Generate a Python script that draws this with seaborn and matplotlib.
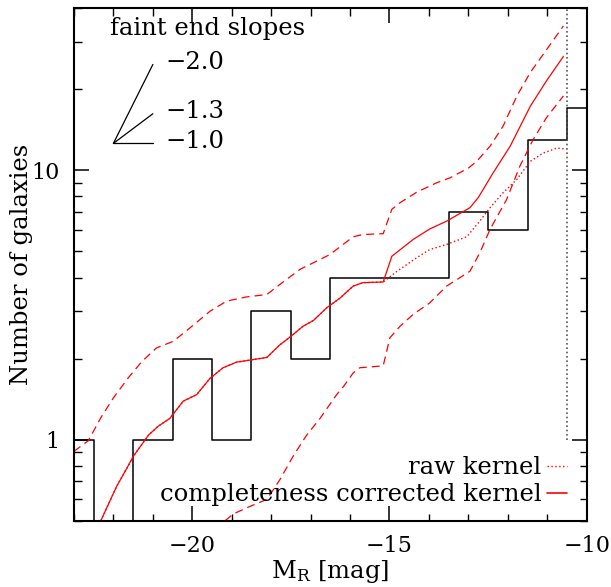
import numpy as np
import pandas as pd
import matplotlib
matplotlib.use("Agg")
import matplotlib.pyplot as plt
import seaborn as sns
from matplotlib.ticker import MultipleLocator, LogLocator, FuncFormatter, NullFormatter
from matplotlib.lines import Line2D

# --- data -------------------------------------------------------------
# galaxy counts in 1-mag bins of absolute R magnitude
bin_edges = [-23.5, -22.5, -21.5, -20.5, -19.5, -18.5, -17.5, -16.5,
             -15.5, -14.5, -13.5, -12.5, -11.5, -10.5, -9.5]
bin_counts = [1, 0, 1, 2, 1, 3, 2, 4, 4, 4, 7, 6, 13, 17]

# completeness corrected kernel estimate
corr_mag = [-22.32, -21.92, -21.71, -21.49, -21.11, -20.87, -20.57, -20.23,
            -19.89, -19.55, -19.22, -18.88, -18.49, -18.11, -17.78, -17.53,
            -17.19, -16.93, -16.59, -16.25, -15.92, -15.67, -15.16, -14.94,
            -14.40, -13.98, -13.55, -12.96, -12.75, -12.37, -11.94, -11.43,
            -11.02, -10.59]
corr_n = [0.50, 0.67, 0.76, 0.87, 1.04, 1.12, 1.20, 1.39,
          1.47, 1.69, 1.85, 1.94, 1.98, 2.02, 2.25, 2.40,
          2.64, 2.77, 3.09, 3.36, 3.72, 3.83, 3.85, 4.80,
          5.54, 6.06, 6.48, 7.27, 7.92, 9.80, 12.3, 17.3,
          21.5, 26.5]

# raw kernel estimate (identical to the corrected one at the bright end)
raw_tail_mag = [-14.81, -14.31, -13.98, -13.55, -13.04, -12.71, -12.45,
                -12.12, -11.77, -11.43, -11.10, -10.76, -10.51]
raw_tail_n = [4.22, 4.74, 5.08, 5.31, 5.67, 6.48, 7.27,
              8.26, 9.26, 10.8, 11.6, 12.1, 12.0]
raw_mag = corr_mag[:23] + raw_tail_mag
raw_n = corr_n[:23] + raw_tail_n

# confidence band of the corrected kernel
upper_mag = [-23.00, -22.64, -22.30, -22.00, -21.62, -21.28, -20.91, -20.48,
             -20.06, -19.55, -19.13, -18.62, -18.11, -17.78, -17.27, -16.51,
             -15.92, -15.67, -15.16, -14.94, -14.73, -14.31, -13.80, -13.46,
             -13.00, -12.79, -12.45, -12.12, -11.77, -11.43, -11.10, -10.59]
upper_n = [0.905, 0.99, 1.22, 1.43, 1.70, 1.95, 2.19, 2.32,
           2.60, 3.00, 3.27, 3.39, 3.46, 3.77, 4.29, 4.87,
           5.67, 5.78, 5.82, 7.17, 7.59, 8.30, 9.00, 9.39,
           10.2, 10.8, 12.3, 14.6, 18.9, 23.1, 27.0, 34.4]
lower_mag = [-19.17, -18.96, -18.54, -18.11, -17.78, -17.44, -17.10, -16.76,
             -16.34, -16.16, -15.92, -15.75, -15.16, -14.99, -14.73, -14.40,
             -13.98, -13.55, -12.96, -12.71, -12.45, -12.03, -11.69, -11.36,
             -11.02, -10.59]
lower_n = [0.50, 0.53, 0.565, 0.60, 0.71, 0.87, 1.04, 1.20,
           1.47, 1.58, 1.77, 1.85, 1.88, 2.39, 2.64, 2.92,
           3.22, 3.72, 4.22, 4.94, 6.04, 7.80, 10.4, 13.0,
           15.7, 18.9]

completeness_limit = -10.5

# faint end slopes shown in the key (alpha, drawn rise in dex per mag)
slope_alpha = [-2.0, -1.3, -1.0]
slope_rise = [0.293, 0.110, 0.0]

# --- style ------------------------------------------------------------
sns.set_theme(style="ticks")
plt.rcParams["font.family"] = ["DejaVu Serif"]
plt.rcParams["mathtext.fontset"] = "dejavuserif"
for key in ("text.color", "axes.labelcolor", "xtick.color", "ytick.color",
            "axes.edgecolor"):
    plt.rcParams[key] = "black"
TXT = 17.5
plt.rcParams["font.size"] = TXT

fig = plt.figure(figsize=(6.11, 5.87), dpi=100)
ax = fig.add_axes([0.1211, 0.1129, 0.8391, 0.8730])

# histogram
centers = [(a + b) / 2 for a, b in zip(bin_edges[:-1], bin_edges[1:])]
hist_df = pd.DataFrame({"mag": centers, "n": bin_counts})
sns.histplot(data=hist_df, x="mag", weights="n", bins=bin_edges,
             element="step", fill=False, color="black", linewidth=1.1, ax=ax)
ax.set_yscale("log")

red = "#ff0000"
sns.lineplot(x=upper_mag, y=upper_n, color=red, lw=0.9, sort=False,
             estimator=None, linestyle=(0, (6.4, 4)), ax=ax)
sns.lineplot(x=lower_mag, y=lower_n, color=red, lw=0.9, sort=False,
             estimator=None, linestyle=(0, (6.4, 4)), ax=ax)
sns.lineplot(x=raw_mag, y=raw_n, color=red, lw=1.0, sort=False,
             estimator=None, linestyle=(0, (1, 1.8)), ax=ax)
sns.lineplot(x=corr_mag, y=corr_n, color=red, lw=0.9, sort=False,
             estimator=None, ax=ax)

ax.set_xlim(-23, -10)
ax.set_ylim(0.5, 40)

# completeness limit
ax.vlines(completeness_limit, 1, ax.get_ylim()[1], colors="0.35",
          linestyles=(0, (1, 1.6)), lw=1.2)

# faint end slope key
m0, n0 = -22.0, 12.6
for a, r in zip(slope_alpha, slope_rise):
    ax.plot([m0, m0 + 1], [n0, n0 * 10 ** r], color="black", lw=0.9)
    ax.annotate(f"{a:.1f}".replace("-", "\u2212"), xy=(m0 + 1, n0 * 10 ** r),
                xytext=(9, 1.5), textcoords="offset points",
                ha="left", va="center", fontsize=TXT)
ax.text(0.2614, 0.9613, "faint end slopes", transform=ax.transAxes,
        ha="center", va="center", fontsize=TXT)

# key for the kernels
handles = [Line2D([], [], color=red, lw=1.0, linestyle=(0, (1, 1.8))),
           Line2D([], [], color=red, lw=1.2)]
ax.legend(handles, ["raw kernel", "completeness corrected kernel"],
          loc="lower right", bbox_to_anchor=(0.961, 0.028), frameon=False,
          markerfirst=False, handlelength=0.82, handletextpad=0.22,
          labelspacing=0.17, borderpad=0, borderaxespad=0, fontsize=TXT)

# axes
ax.xaxis.set_major_locator(MultipleLocator(5))
ax.xaxis.set_minor_locator(MultipleLocator(1))
ax.yaxis.set_major_locator(LogLocator(base=10))
ax.yaxis.set_minor_locator(LogLocator(base=10, subs=np.arange(2, 10)))
ax.yaxis.set_major_formatter(FuncFormatter(lambda v, p: f"{v:g}"))
ax.yaxis.set_minor_formatter(NullFormatter())
ax.tick_params(which="both", direction="in", top=True, right=True,
               color="black", labelcolor="black")
ax.tick_params(which="major", length=10.8, width=1.1, pad=10.5,
               labelsize=16)
ax.tick_params(which="minor", length=5.4, width=1.0)
for s in ax.spines.values():
    s.set_linewidth(1.5)
    s.set_color("black")
ax.set_xlabel(r"M$_{\rm R}$ [mag]", fontsize=TXT, color="black")
ax.set_ylabel("Number of galaxies", fontsize=TXT, color="black")
ax.xaxis.set_label_coords(0.5, -0.072)
ax.yaxis.set_label_coords(-0.080, 0.5)
ax.grid(False)

fig.savefig("out.png", dpi=100)
